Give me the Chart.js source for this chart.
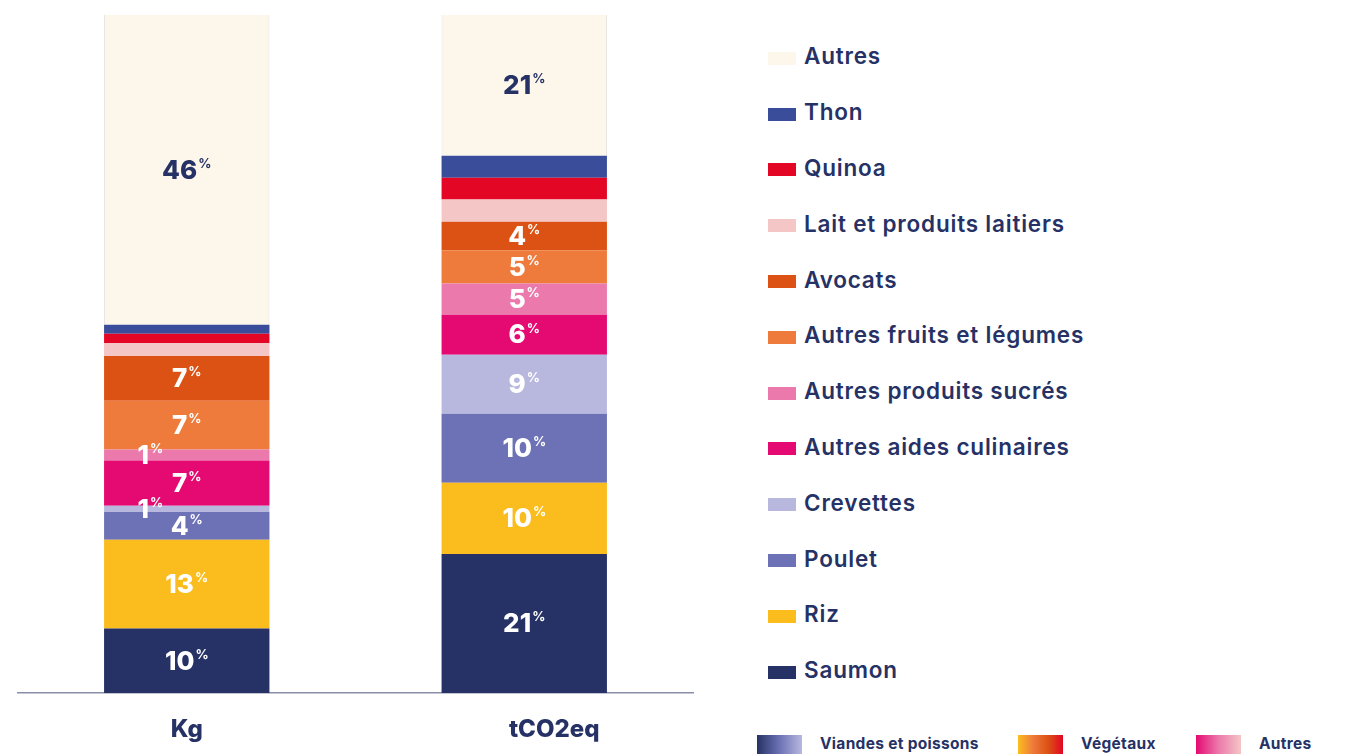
<!DOCTYPE html>
<html>
<head>
<meta charset="utf-8">
<script src="https://cdn.jsdelivr.net/npm/chart.js@4"></script>
<style>
    body { margin: 0; background: #fff; width: 1345px; height: 754px; overflow: hidden; position: relative; font-family: Inter, "Open Sans", sans-serif; color: #263265; }
    #chartBox { position: absolute; left: 0; top: 0; width: 700px; height: 754px; }
    #legend { position: absolute; left: 768px; top: 28px; }
    .leg-item { display: flex; align-items: center; height: 55.8px; font-size: 22.5px; font-weight: 600; letter-spacing: 0.8px; white-space: nowrap; }
    .leg-swatch { width: 28px; height: 13px; margin-right: 8px; margin-top: 5px; }
    .grp { position: absolute; top: 735px; display: flex; align-items: flex-start; font-size: 15.5px; font-weight: 700; letter-spacing: 0.3px; white-space: nowrap; }
    .grp-swatch { width: 45px; height: 24px; margin-right: 18px; }
    .grp span { line-height: 18px; }
</style>
</head>
<body>
<div id="chartBox"><canvas id="StackChart" width="700" height="754"></canvas></div>
<div id="legend"></div>
<div id="groups"></div>

<script>
const categories = ['Kg', 'tCO2eq'];
const seriesNames = ['Saumon', 'Riz', 'Poulet', 'Crevettes', 'Autres aides culinaires', 'Autres produits sucrés',
    'Autres fruits et légumes', 'Avocats', 'Lait et produits laitiers', 'Quinoa', 'Thon', 'Autres'];
const seriesColors = ['#263265', '#fbbd1e', '#6c72b5', '#b8b8de', '#e40a72', '#ec79ab',
    '#ee7a3b', '#db5214', '#f4c6c6', '#e30625', '#3a4d9a', '#fdf6ea'];
// share (%) per series, bottom to top
const kgValues = [9.5, 13.1, 4.1, 0.9, 6.7, 1.6, 7.2, 6.6, 1.9, 1.4, 1.3, 45.7];
const co2Values = [20.5, 10.5, 10.2, 8.7, 5.9, 4.6, 4.9, 4.2, 3.3, 3.2, 3.25, 20.75];
// printed labels
const kgLabels = ['10', '13', '4', '1', '7', '1', '7', '7', '', '', '', '46'];
const co2Labels = ['21', '10', '10', '9', '6', '5', '5', '4', '', '', '', '21'];

const groupNames = ['Viandes et poissons', 'Végétaux', 'Autres'];
const groupColors = [
    ['#263265', '#6c72b5', '#b8b8de'],
    ['#fbbd1e', '#ee7a3b', '#db5214', '#e30625'],
    ['#e40a72', '#ec79ab', '#f4c6c6']
];

const NAVY = '#263265';
const FONT = 'Inter, "Open Sans", sans-serif';

function drawPercentLabel(ctx, text, x, y, color) {
    ctx.save();
    ctx.fillStyle = color;
    ctx.textBaseline = 'middle';
    ctx.textAlign = 'left';
    ctx.font = '800 26px ' + FONT;
    let numW = ctx.measureText(text).width;
    ctx.font = '700 13px ' + FONT;
    let pctW = ctx.measureText('%').width;
    let startX = x - (numW + pctW + 1) / 2;
    ctx.font = '800 26px ' + FONT;
    ctx.fillText(text, startX, y + 1);
    ctx.font = '700 13px ' + FONT;
    ctx.fillText('%', startX + numW + 1, y - 6);
    ctx.restore();
}

const segmentLabels = {
    id: 'segmentLabels',
    afterDatasetsDraw(chart) {
        let ctx = chart.ctx;
        chart.data.datasets.forEach(function (ds, i) {
            let meta = chart.getDatasetMeta(i);
            meta.data.forEach(function (bar, j) {
                let text = ds.pctLabels[j];
                if (!text) {
                    return;
                }
                let h = Math.abs(bar.base - bar.y);
                let cx = bar.x;
                if (h < 14) {
                    // thin slice: label sits off to the left
                    cx = bar.x - bar.width * 0.22;
                }
                let color = ds.label == 'Autres' ? NAVY : '#ffffff';
                drawPercentLabel(ctx, text, cx, (bar.y + bar.base) / 2, color);
            });
        });
    }
};

let datasets = [];
for (let i = 0; i < seriesNames.length; i++) {
    datasets.push({
        label: seriesNames[i],
        data: [kgValues[i], co2Values[i]],
        pctLabels: [kgLabels[i], co2Labels[i]],
        backgroundColor: seriesColors[i],
        borderWidth: seriesNames[i] == 'Autres' ? { left: 1, right: 1, top: 0, bottom: 0 } : 0,
        borderColor: '#e6e2dc',
        borderSkipped: false,
        barPercentage: 0.49,
        categoryPercentage: 1
    });
}

const config = {
    type: 'bar',
    data: { labels: categories, datasets: datasets },
    options: {
        responsive: false,
        animation: false,
        layout: { padding: { top: 15, bottom: 10, left: 18, right: 7 } },
        plugins: {
            legend: { display: false },
            tooltip: { enabled: false }
        },
        scales: {
            x: {
                stacked: true,
                grid: { display: false, drawTicks: false },
                border: { display: true, color: '#8a8fa8', width: 1.5 },
                afterFit: function (axis) {
                    axis.height = 51;
                },
                ticks: {
                    color: NAVY,
                    padding: 22,
                    font: { family: FONT, size: 24, weight: '800' },
                    callback: function (value, index) {
                        // second label sits a little right of its bar
                        return index == 1 ? '\u2003\u2003\u2002' + categories[index] : categories[index];
                    }
                }
            },
            y: {
                stacked: true,
                display: false,
                min: 0,
                max: 100
            }
        }
    },
    plugins: [segmentLabels]
};

new Chart(document.getElementById('StackChart'), config);

// right-hand legend, top item first
let legendHTML = '';
for (let i = seriesNames.length - 1; i >= 0; i--) {
    legendHTML += `<div class="leg-item"><div class="leg-swatch" style="background:${seriesColors[i]}"></div>${seriesNames[i]}</div>`;
}
document.getElementById('legend').innerHTML = legendHTML;

// group legend along the bottom
const groupLeft = [757, 1018, 1196];
let groupHTML = '';
for (let i = 0; i < groupNames.length; i++) {
    groupHTML += `<div class="grp" style="left:${groupLeft[i]}px"><div class="grp-swatch" style="background:linear-gradient(90deg, ${groupColors[i].join(', ')})"></div><span>${groupNames[i]}</span></div>`;
}
document.getElementById('groups').innerHTML = groupHTML;
</script>
</body>
</html>
